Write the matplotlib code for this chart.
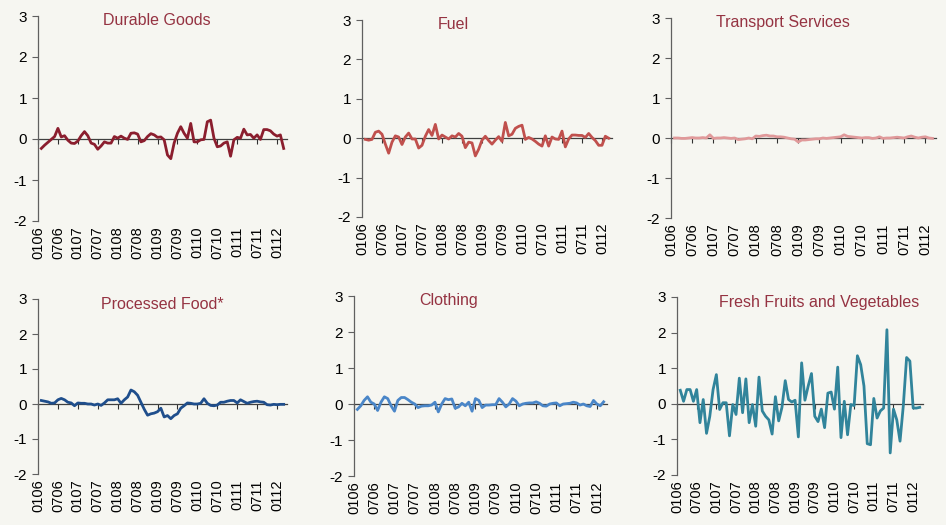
import numpy as np
import matplotlib.pyplot as plt

plt.rcParams['font.family'] = ['Liberation Sans', 'DejaVu Sans']
plt.rcParams['axes.unicode_minus'] = False

# month index 0 = Jan 2006, labels every six months
tick_months = [0, 6, 12, 18, 24, 30, 36, 42, 48, 54, 60, 66, 72]
tick_labels = ['0106', '0706', '0107', '0707', '0108', '0708', '0109',
               '0709', '0110', '0710', '0111', '0711', '0112']
months = np.arange(1, 75)

durable = [-0.23, -0.15, -0.08, -0.01, 0.06, 0.26, 0.05, 0.08, -0.03, -0.10,
           -0.11, -0.05, 0.08, 0.18, 0.08, -0.10, -0.13, -0.25, -0.17, -0.07,
           -0.10, -0.10, 0.06, 0.02, 0.07, 0.02, -0.01, 0.14, 0.15, 0.12,
           -0.07, -0.04, 0.06, 0.13, 0.10, 0.04, 0.05, -0.02, -0.39, -0.48,
           -0.10, 0.14, 0.30, 0.14, 0.02, 0.38, -0.07, -0.07, -0.02, -0.01,
           0.42, 0.46, 0.02, -0.19, -0.17, -0.10, -0.07, -0.42, -0.02, 0.04,
           0.02, 0.24, 0.10, 0.11, 0.02, 0.10, -0.01, 0.23, 0.23, 0.20,
           0.12, 0.07, 0.10, -0.23]

fuel = [-0.03, -0.05, -0.03, 0.15, 0.18, 0.10, -0.15, -0.38, -0.10, 0.06,
        0.03, -0.16, 0.03, 0.13, -0.02, -0.02, -0.25, -0.18, 0.05, 0.22,
        0.07, 0.35, -0.02, 0.08, 0.03, -0.02, 0.06, 0.03, 0.12, 0.05,
        -0.24, -0.10, -0.12, -0.45, -0.28, -0.05, 0.05, -0.06, -0.15, -0.05,
        0.04, -0.08, 0.40, 0.06, 0.10, 0.25, 0.30, 0.33, -0.03, 0.02,
        -0.02, -0.08, -0.15, -0.20, 0.06, -0.20, 0.03, -0.02, -0.03, 0.18,
        -0.22, -0.02, 0.08, 0.08, 0.07, 0.07, 0.02, 0.12, 0.02, -0.06,
        -0.18, -0.18, 0.05, 0.00]

transport = [0.00, 0.00, -0.01, -0.01, 0.00, 0.01, 0.00, 0.00, 0.01, 0.00,
             0.08, -0.01, 0.00, 0.00, 0.01, 0.00, -0.01, 0.00, -0.04, -0.03,
             -0.02, 0.00, -0.02, 0.05, 0.04, 0.06, 0.07, 0.05, 0.05, 0.03,
             0.03, 0.02, 0.00, -0.02, -0.03, -0.10, -0.05, -0.05, -0.04, -0.03,
             -0.02, -0.02, 0.00, -0.01, 0.00, 0.01, 0.02, 0.03, 0.08, 0.04,
             0.03, 0.02, 0.01, 0.00, 0.01, 0.01, -0.01, 0.00, 0.03, -0.01,
             0.00, 0.00, 0.01, 0.02, 0.01, 0.00, 0.03, 0.05, 0.02, 0.00,
             0.02, 0.03, 0.00, -0.01]

processed = [0.10, 0.08, 0.06, 0.02, 0.03, 0.12, 0.16, 0.12, 0.05, 0.03,
             -0.05, 0.03, 0.02, 0.02, 0.00, 0.00, -0.03, 0.00, -0.04, 0.03,
             0.12, 0.12, 0.12, 0.15, 0.02, 0.12, 0.20, 0.40, 0.35, 0.25,
             0.05, -0.15, -0.32, -0.28, -0.26, -0.22, -0.12, -0.37, -0.33, -0.42,
             -0.33, -0.28, -0.12, -0.05, 0.03, 0.02, 0.00, 0.00, 0.02, 0.15,
             0.02, -0.04, -0.05, -0.03, 0.05, 0.05, 0.08, 0.10, 0.10, 0.03,
             0.12, 0.07, 0.02, 0.05, 0.07, 0.08, 0.06, 0.05, -0.02, -0.03,
             -0.01, -0.02, -0.01, -0.01]

clothing = [-0.15, -0.05, 0.10, 0.20, 0.05, 0.00, -0.18, 0.05, 0.20, 0.15,
            -0.05, -0.20, 0.10, 0.18, 0.18, 0.12, 0.05, 0.00, -0.10, -0.06,
            -0.05, -0.05, -0.03, 0.05, -0.22, 0.00, 0.15, 0.12, 0.14, -0.12,
            -0.08, 0.02, -0.05, 0.05, -0.20, 0.15, 0.10, -0.10, -0.03, -0.03,
            -0.02, -0.02, 0.15, 0.05, -0.08, 0.00, 0.15, 0.08, -0.05, 0.00,
            0.02, 0.03, 0.03, 0.06, 0.02, -0.05, -0.06, 0.00, 0.02, 0.03,
            -0.05, 0.00, 0.01, 0.02, 0.05, 0.03, -0.03, 0.00, -0.05, -0.07,
            0.10, 0.00, -0.05, 0.06]

fresh = [0.38, 0.07, 0.40, 0.40, 0.07, 0.40, -0.53, 0.12, -0.83, -0.35,
         0.40, 0.82, -0.16, 0.03, 0.03, -0.90, -0.02, -0.30, 0.72, -0.25,
         0.70, -0.53, -0.02, -0.63, 0.75, -0.20, -0.35, -0.45, -0.85, 0.20,
         -0.48, -0.10, 0.65, 0.12, 0.05, 0.10, -0.93, 1.15, 0.10, 0.50,
         0.85, -0.35, -0.50, -0.15, -0.67, 0.30, 0.33, -0.15, 1.03, -0.95,
         0.07, -0.87, -0.02, -0.05, 1.35, 1.10, 0.50, -1.12, -1.15, 0.15,
         -0.40, -0.20, -0.12, 2.08, -1.38, -0.15, -0.45, -1.05, -0.05, 1.30,
         1.20, -0.12, -0.12, -0.10]

titles = ['Durable Goods', 'Fuel', 'Transport Services',
          'Processed Food*', 'Clothing', 'Fresh Fruits and Vegetables']
series = [durable, fuel, transport, processed, clothing, fresh]
colors = ['#8B1E2E', '#C0504D', '#E0999A', '#1F4E8C', '#4A86C8', '#31849B']

W, H = 946, 525
# left, right, top, bottom in pixels; title position in axes fraction
boxes = [(38, 287, 16, 221), (362, 612, 20, 217), (671, 936, 18, 218),
         (38, 287, 299, 474), (354, 607, 296, 476), (677, 923, 297, 475)]
title_pos = [(0.478, 0.976), (0.364, 0.975), (0.423, 0.977),
             (0.498, 0.970), (0.375, 0.974), (0.577, 0.968)]

bg = '#F6F6F1'
fig = plt.figure(figsize=(W / 100, H / 100), dpi=100, facecolor=bg)

for title, data, color, (l, r, t, b), (tx, ty) in zip(titles, series, colors, boxes, title_pos):
    ax = fig.add_axes([l / W, 1 - b / H, (r - l) / W, (b - t) / H])
    ax.set_facecolor(bg)
    ax.plot(months, data, color=color, lw=2.0, solid_joinstyle='round')
    ax.set_xlim(0, 75)
    ax.set_ylim(-2, 3)
    ax.set_yticks(range(-2, 4))
    ax.set_xticks(tick_months)
    ax.set_xticklabels(tick_labels, rotation=90, fontsize=10.5)
    ax.tick_params(axis='x', length=0, pad=4)
    ax.tick_params(axis='y', length=4, width=0.8, color='#606060', labelsize=11, pad=4)
    for s in ['top', 'right', 'bottom']:
        ax.spines[s].set_visible(False)
    ax.spines['left'].set_color('#606060')
    ax.spines['left'].set_linewidth(0.9)

    # category axis crossing at zero
    zx = ax.secondary_xaxis(0.4)
    zx.set_xticks(tick_months)
    zx.set_xticklabels([])
    zx.tick_params(length=3.5, width=0.8, color='#303030', direction='out')
    zx.spines['bottom'].set_color('#404040')
    zx.spines['bottom'].set_linewidth(0.9)

    ax.text(tx, ty, title, transform=ax.transAxes, ha='center', va='center',
            fontsize=11.5, color='#953342')

fig.savefig('out.png', dpi=100, facecolor=bg)
